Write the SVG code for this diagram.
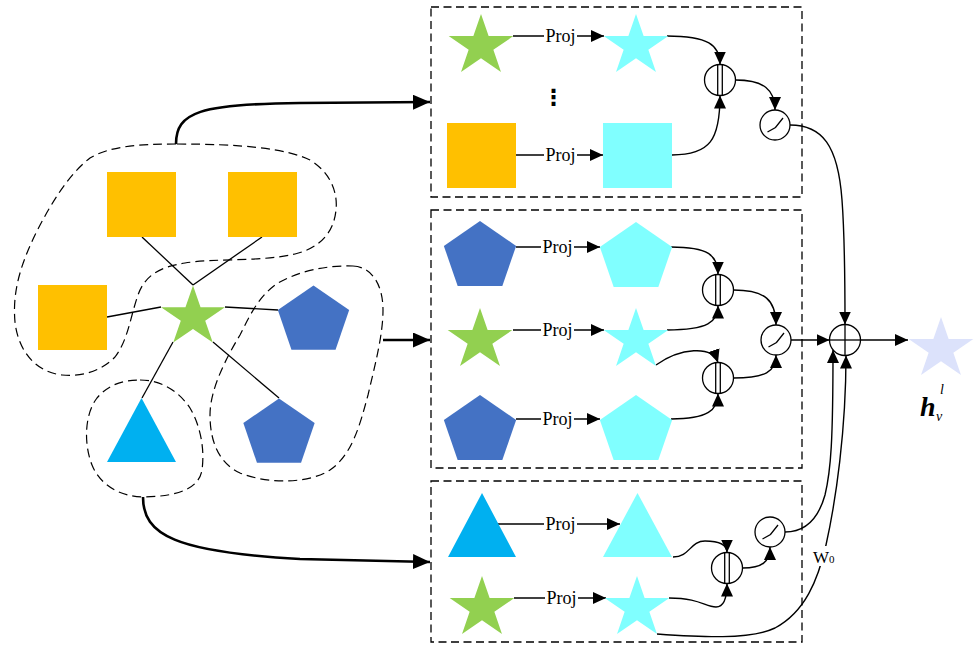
<svg xmlns="http://www.w3.org/2000/svg" xmlns:xlink="http://www.w3.org/1999/xlink" width="975" height="646" viewBox="0 0 975 646">
  <style>
    .box { fill: none; stroke: #000; stroke-width: 1.3; stroke-dasharray: 8 4.5; }
    .blob { fill: none; stroke: #000; stroke-width: 1.2; stroke-dasharray: 9 5; }
    .edge { fill: none; stroke: #000; stroke-width: 1.3; }
    .arr { fill: none; stroke: #000; stroke-width: 1.4; marker-end: url(#ah); }
    .thick { fill: none; stroke: #000; stroke-width: 2.6; marker-end: url(#ahL); }
    .op { fill: #fff; stroke: #000; stroke-width: 1.3; }
    .opl { fill: none; stroke: #000; stroke-width: 1.3; }
    .lbl { font-family: "Liberation Serif", "Times New Roman", serif; font-size: 18px; fill: #000; text-anchor: middle; }
    .orange { fill: #FFC000; }
    .green { fill: #92D050; }
    .cyan { fill: #80FFFF; }
    .blue { fill: #4472C4; }
    .sky { fill: #00B0F0; }
  </style>
  <defs>
    <marker id="ah" markerUnits="userSpaceOnUse" markerWidth="14" markerHeight="13" refX="13" refY="6" orient="auto">
      <path d="M0,0 L13,6 L0,12 Z" fill="#000"/>
    </marker>
    <marker id="ahL" markerUnits="userSpaceOnUse" markerWidth="18" markerHeight="16" refX="17" refY="7.5" orient="auto">
      <path d="M0,0 L17,7.5 L0,15 Z" fill="#000"/>
    </marker>
    <!-- unit five-point star and pentagon, scaled per use -->
    <path id="star" d="M0,-1 L0.2245,-0.309 L0.9511,-0.309 L0.3633,0.118 L0.5878,0.809 L0,0.382 L-0.5878,0.809 L-0.3633,0.118 L-0.9511,-0.309 L-0.2245,-0.309 Z"/>
    <path id="pent" d="M0,-1 L0.9511,-0.309 L0.5878,0.809 L-0.5878,0.809 L-0.9511,-0.309 Z"/>
    <!-- concat operator -->
    <g id="cat">
      <circle class="op" r="15.5"/>
      <line class="opl" x1="-2.3" y1="-15.5" x2="-2.3" y2="15.5"/>
      <line class="opl" x1="2.3" y1="-15.5" x2="2.3" y2="15.5"/>
    </g>
    <!-- activation operator -->
    <g id="act">
      <circle class="op" r="15"/>
      <path class="opl" d="M-7.5,7 L0.5,2.5 L8,-7"/>
    </g>
  </defs>

  <!-- dashed boxes -->
  <g id="boxes">
    <rect class="box" x="431" y="7" width="371" height="190"/>
    <rect class="box" x="431" y="210" width="371" height="258"/>
    <rect class="box" x="431" y="481" width="371" height="161"/>
  </g>

  <!-- neighbourhood outlines -->
  <g id="groups">
    <path class="blob" d="M177,144 C240,144 285,148 310,160 C330,172 338,192 336,210 C334,232 320,248 295,254 C260,262 215,258 185,263 C160,267 145,275 138,295 C130,318 128,340 115,357 C100,372 80,377 62,375 C35,372 18,350 15,322 C12,290 22,262 35,235 C50,205 68,175 90,158 C110,146 140,144 177,144 Z"/>
    <path class="blob" d="M353,266 C372,267 383,285 383,310 C383,335 375,365 368,395 C360,425 352,455 330,470 C310,483 270,485 240,473 C218,463 210,440 210,415 C210,390 225,360 240,335 C250,315 258,298 275,285 C295,272 325,265 353,266 Z"/>
    <path class="blob" d="M140,380 C160,380 178,390 190,408 C200,425 205,448 202,470 C199,488 180,496 145,497 C120,497 100,485 92,465 C84,445 84,415 97,398 C108,385 122,380 140,380 Z"/>
  </g>

  <!-- graph edges and flow connectors -->
  <g id="connectors">
    <line class="edge" x1="193" y1="285" x2="142" y2="237"/>
    <line class="edge" x1="193" y1="285" x2="262" y2="237"/>
    <line class="edge" x1="161" y1="307" x2="107" y2="317"/>
    <line class="edge" x1="225" y1="307" x2="278" y2="310"/>
    <line class="edge" x1="173" y1="342" x2="142" y2="398"/>
    <line class="edge" x1="213" y1="342" x2="279" y2="398"/>

    <path class="thick" d="M176,144 C176,112 200,104 300,103 L430,102"/>
    <path class="thick" d="M383,340 L430,340"/>
    <path class="thick" d="M143,497 C143,535 175,552 300,559 L430,562"/>

    <!-- projections -->
    <path class="arr" d="M513,36 L604,36"/>
    <path class="arr" d="M516,155 L603,155"/>
    <path class="arr" d="M516,247 L600,247"/>
    <path class="arr" d="M513,330 L604,330"/>
    <path class="arr" d="M516,419 L600,419"/>
    <path class="arr" d="M498,524 L620,524"/>
    <path class="arr" d="M514,598 L606,598"/>

    <!-- box 1 -->
    <path class="arr" d="M667,36 C708,36 720,45 720,64.5"/>
    <path class="arr" d="M672,155 C710,155 720,140 720,95.5"/>
    <path class="arr" d="M735.5,80 C764,80 775,90 775,110"/>
    <path class="arr" d="M790,125 C822,125 838,145 842,200 C845,240 845,280 845,324.5"/>

    <!-- box 2 -->
    <path class="arr" d="M671,247 C708,247 718,255 718,274.5"/>
    <path class="arr" d="M667,330 C708,330 718,322 718,305.5"/>
    <path class="arr" d="M656,365 C680,348 712,345 718,362.5"/>
    <path class="arr" d="M671,419 C708,419 718,410 718,393.5"/>
    <path class="arr" d="M733.5,290 C765,290 776,300 776,325"/>
    <path class="arr" d="M733.5,378 C765,378 776,372 776,355"/>
    <path class="arr" d="M791,340 L829.5,340"/>

    <!-- box 3 -->
    <path class="arr" d="M673,557 C690,557 690,541 705,541 C718,541 727,544 727,552.5"/>
    <path class="arr" d="M669,598 C700,598 705,607 716,607 C725,607 727,595 727,583.5"/>
    <path class="arr" d="M742.5,568 C762,568 770,562 770,547"/>
    <path class="arr" d="M785,532 C805,532 818,520 825,495 C831,470 833,440 833,350"/>
    <path class="arr" d="M657,634 C700,637 750,640 775,628 C805,612 818,580 826,545 C836,500 846,430 846,355.5"/>

    <!-- output -->
    <path class="arr" d="M860.5,340 L908,340"/>
  </g>

  <!-- left graph nodes -->
  <g id="n-sq1"><rect class="orange" x="107" y="172" width="69" height="65"/></g>
  <g id="n-sq2"><rect class="orange" x="228" y="172" width="69" height="65"/></g>
  <g id="n-sq3"><rect class="orange" x="38" y="285" width="69" height="65"/></g>
  <g id="n-target"><use xlink:href="#star" class="green" transform="translate(193,317) scale(33.6,31.5)"/></g>
  <g id="n-pent1"><use xlink:href="#pent" class="blue" transform="translate(313.5,321) scale(37.5,35.5)"/></g>
  <g id="n-pent2"><use xlink:href="#pent" class="blue" transform="translate(279,434) scale(37.5,35.5)"/></g>
  <g id="n-tri"><polygon class="sky" points="141.5,398 176,462 107,462"/></g>

  <!-- box 1 nodes -->
  <g id="b1-star"><use xlink:href="#star" class="green" transform="translate(481,46) scale(34,32)"/></g>
  <g id="b1-star-p"><use xlink:href="#star" class="cyan" transform="translate(636,46) scale(34,32)"/></g>
  <g id="b1-dots"><text x="553.5" y="105" font-family="DejaVu Sans, sans-serif" font-weight="bold" font-size="22" text-anchor="middle">⋮</text></g>
  <g id="b1-sq"><rect class="orange" x="447" y="123" width="69" height="65"/></g>
  <g id="b1-sq-p"><rect class="cyan" x="603" y="123" width="69" height="65"/></g>
  <g id="b1-cat"><use xlink:href="#cat" x="720" y="80"/></g>
  <g id="b1-act"><use xlink:href="#act" x="775" y="125"/></g>

  <!-- box 2 nodes -->
  <g id="b2-pent1"><use xlink:href="#pent" class="blue" transform="translate(480,257) scale(38,36)"/></g>
  <g id="b2-pent1-p"><use xlink:href="#pent" class="cyan" transform="translate(636,258) scale(38,36)"/></g>
  <g id="b2-star"><use xlink:href="#star" class="green" transform="translate(480,340) scale(34,32)"/></g>
  <g id="b2-star-p"><use xlink:href="#star" class="cyan" transform="translate(636,340) scale(34,32)"/></g>
  <g id="b2-pent2"><use xlink:href="#pent" class="blue" transform="translate(480,431) scale(38,36)"/></g>
  <g id="b2-pent2-p"><use xlink:href="#pent" class="cyan" transform="translate(636,431) scale(38,36)"/></g>
  <g id="b2-cat1"><use xlink:href="#cat" x="718" y="290"/></g>
  <g id="b2-cat2"><use xlink:href="#cat" x="718" y="378"/></g>
  <g id="b2-act"><use xlink:href="#act" x="776" y="340"/></g>

  <!-- box 3 nodes -->
  <g id="b3-tri"><polygon class="sky" points="482,493 516,557 448,557"/></g>
  <g id="b3-tri-p"><polygon class="cyan" points="637.5,493 672,557 603,557"/></g>
  <g id="b3-star"><use xlink:href="#star" class="green" transform="translate(482,608) scale(34,32)"/></g>
  <g id="b3-star-p"><use xlink:href="#star" class="cyan" transform="translate(637,608) scale(34,32)"/></g>
  <g id="b3-cat"><use xlink:href="#cat" x="727" y="568"/></g>
  <g id="b3-act"><use xlink:href="#act" x="770" y="532"/></g>

  <!-- aggregation and output -->
  <g id="sum">
    <circle class="op" cx="845" cy="340" r="15.5"/>
    <line class="opl" x1="829.5" y1="340" x2="860.5" y2="340"/>
    <line class="opl" x1="845" y1="324.5" x2="845" y2="355.5"/>
  </g>
  <g id="out">
    <use xlink:href="#star" fill="#DCE2FB" transform="translate(941,349) scale(34,32)"/>
    <text font-family="Liberation Serif, serif" font-style="italic" font-weight="bold" font-size="28" x="920" y="416">h</text>
    <text font-family="Liberation Serif, serif" font-style="italic" font-size="14" x="940" y="394">l</text>
    <text font-family="Liberation Serif, serif" font-style="italic" font-size="14" x="936" y="421">v</text>
  </g>

  <!-- connector labels -->
  <g id="labels">
    <g fill="#fff">
      <rect x="544" y="26" width="33" height="20"/>
      <rect x="544" y="145" width="33" height="20"/>
      <rect x="541" y="237" width="33" height="20"/>
      <rect x="541" y="320" width="33" height="20"/>
      <rect x="541" y="409" width="33" height="20"/>
      <rect x="544" y="514" width="33" height="20"/>
      <rect x="545" y="588" width="33" height="20"/>
      <rect x="810" y="546" width="29" height="20"/>
    </g>
    <text class="lbl" x="560.5" y="42">Proj</text>
    <text class="lbl" x="560.5" y="161">Proj</text>
    <text class="lbl" x="557.5" y="253">Proj</text>
    <text class="lbl" x="557.5" y="336">Proj</text>
    <text class="lbl" x="557.5" y="425">Proj</text>
    <text class="lbl" x="560.5" y="530">Proj</text>
    <text class="lbl" x="561.5" y="604">Proj</text>
    <text font-family="Liberation Serif, serif" font-size="17" x="813" y="563">W<tspan font-size="11">0</tspan></text>
  </g>
</svg>
